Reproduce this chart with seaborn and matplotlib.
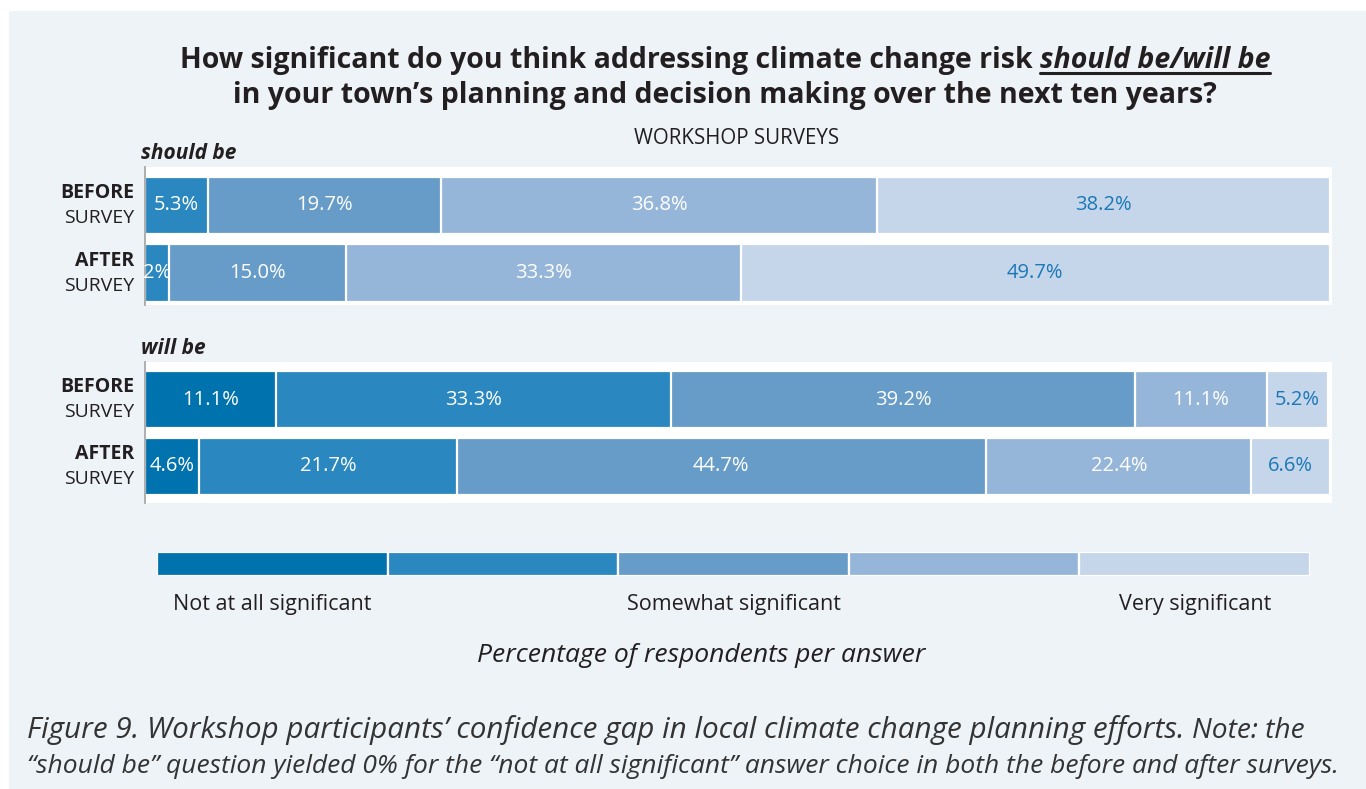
import matplotlib
matplotlib.use("Agg")
import matplotlib.pyplot as plt
import matplotlib.transforms as mtransforms
from matplotlib.patches import Rectangle
from matplotlib.lines import Line2D
import seaborn as sns
import pandas as pd
import numpy as np

# --- data -----------------------------------------------------------------
levels = ["Not at all significant", "Slightly significant", "Somewhat significant",
          "Quite significant", "Very significant"]
legend_ticks = ["Not at all significant", "Somewhat significant", "Very significant"]
surveys = ["BEFORE", "AFTER"]

should_before = [0.0, 5.3, 19.7, 36.8, 38.2]
should_after = [0.0, 2.0, 15.0, 33.3, 49.7]
will_before = [11.1, 33.3, 39.2, 11.1, 5.2]
will_after = [4.6, 21.7, 44.7, 22.4, 6.6]

palette = ["#0072ae", "#2a87bf", "#679cc9", "#96b6d9", "#c5d6eb"]

# --- figure ---------------------------------------------------------------
W, H = 1366, 789
sns.set_theme(style="white")
plt.rcParams["font.family"] = ["Open Sans", "DejaVu Sans"]
INK = "#231f20"

fig = plt.figure(figsize=(W / 100, H / 100), dpi=100)
fig.patch.set_facecolor("white")
fig.patches.append(Rectangle((9 / W, 0), 1, 1 - 11 / H, transform=fig.transFigure,
                             facecolor="#eef3f8", edgecolor="none", zorder=-10))


def fx(x):
    return x / W


def fy(y):
    return 1 - y / H


def add_axes_px(left, top, right, bottom):
    return fig.add_axes([fx(left), fy(bottom), (right - left) / W, (bottom - top) / H])


def fit_width(txt, target):
    r = fig.canvas.get_renderer()
    w = txt.get_window_extent(r).width
    txt.set_fontsize(txt.get_fontsize() * target / w)


def stacked_panel(ax, before, after, heading, ylim):
    rows = []
    for s, vals in zip(surveys, [before, after]):
        cum = np.cumsum(vals)
        for lvl, v, c in zip(levels, vals, cum):
            rows.append({"survey": s, "level": lvl, "pct": v, "cum": c})
    df = pd.DataFrame(rows)

    # draw from the longest cumulative bar back to the shortest
    for i in reversed(range(len(levels))):
        sub = df[(df.level == levels[i]) & (df.pct > 0)]
        sns.barplot(data=sub, x="cum", y="survey", order=surveys, orient="h",
                    color=palette[i], width=0.85, edgecolor="white", linewidth=1.6,
                    saturation=1, ax=ax)
        for _, r in sub.iterrows():
            yi = surveys.index(r.survey)
            lab = f"{r.pct:.1f}%" if r.pct >= 3 else f"{r.pct:.0f}%"
            ax.text(r.cum - r.pct / 2, yi, lab, ha="center", va="center",
                    fontsize=14.5, color="white" if i < 4 else "#1b78b5")

    ax.set_facecolor("white")
    ax.set_xlim(0, 100.2)
    ax.set_ylim(*ylim)
    ax.set_xticks([])
    ax.set_yticks([])
    ax.set_xlabel("")
    ax.set_ylabel("")
    for side in ["top", "right", "bottom"]:
        ax.spines[side].set_visible(False)
    ax.spines["left"].set_color("#a8a8a8")
    ax.spines["left"].set_linewidth(1.3)

    trans = mtransforms.blended_transform_factory(ax.transAxes, ax.transData)
    for yi, s in enumerate(surveys):
        ax.text(-0.0093, yi - 0.18, s, transform=trans, ha="right", va="center",
                fontsize=14, fontweight="bold", color=INK)
        ax.text(-0.0093, yi + 0.19, "SURVEY", transform=trans, ha="right", va="center",
                fontsize=14, color=INK)
    ax.text(-0.003, 1.02, heading, transform=ax.transAxes, ha="left", va="bottom",
            fontsize=15, fontweight="bold", fontstyle="italic", color=INK)


ax1 = add_axes_px(145, 167, 1332, 305)
stacked_panel(ax1, should_before, should_after, "should be", (1.474, -0.57))
ax2 = add_axes_px(145, 362, 1332, 503)
stacked_panel(ax2, will_before, will_after, "will be", (1.545, -0.56))

# --- title ----------------------------------------------------------------
r = fig.canvas.get_renderer()
title_a = "How significant do you think addressing climate change risk"
title_b = "should be/will be"
TS = 20.5
ta = fig.text(0, 0, title_a, fontsize=TS, fontweight="bold", color=INK, va="baseline")
tb = fig.text(0, 0, title_b, fontsize=TS, fontweight="bold", fontstyle="italic",
              color=INK, va="baseline")
tsp = fig.text(0, 0, "a a", fontsize=TS, fontweight="bold")
tnsp = fig.text(0, 0, "aa", fontsize=TS, fontweight="bold")
wa = ta.get_window_extent(r).width
wb = tb.get_window_extent(r).width
wsp = tsp.get_window_extent(r).width - tnsp.get_window_extent(r).width
tsp.remove()
tnsp.remove()
total = wa + wsp + wb
x0 = 725 - total / 2
ta.set_position((fx(x0), fy(68)))
xb = x0 + wa + wsp
tb.set_position((fx(xb), fy(68)))
fig.lines.append(Line2D([fx(xb), fx(xb + wb)], [fy(73), fy(73)], transform=fig.transFigure,
                        color=INK, linewidth=2.2))
fig.text(fx(725), fy(103), "in your town’s planning and decision making over the next ten years?",
         fontsize=TS, fontweight="bold", color=INK, ha="center", va="baseline")

fig.text(fx(737), fy(138), "WORKSHOP SURVEYS", fontsize=14.8, color=INK,
         ha="center", va="center")

# --- legend strip ---------------------------------------------------------
axl = add_axes_px(157, 552, 1310, 576)
leg = pd.DataFrame({"level": levels, "one": [1] * len(levels)})
sns.barplot(data=leg, x="level", y="one", hue="level", palette=palette, width=1,
            edgecolor="white", linewidth=1.6, saturation=1, legend=False, ax=axl)
axl.set_xlim(-0.5, 4.5)
axl.set_ylim(0, 1)
axl.set_yticks([])
axl.set_xticks([0, 2, 4])
axl.set_xticklabels(legend_ticks, fontsize=15.5, color=INK)
axl.tick_params(axis="x", length=0, pad=13)
axl.set_xlabel("")
axl.set_ylabel("")
axl.set_facecolor("none")
for sp in axl.spines.values():
    sp.set_visible(False)

pct = fig.text(fx(701), fy(656), "Percentage of respondents per answer", fontsize=15,
               fontstyle="italic", color=INK, ha="center", va="center")
fit_width(pct, 448)

# --- caption --------------------------------------------------------------
c1 = fig.text(fx(27), fy(738), "Figure 9. Workshop participants’ confidence gap in local "
              "climate change planning efforts.", fontsize=18, fontstyle="italic",
              color="#333333", ha="left", va="baseline")
fit_width(c1, 1158)
c1b = fig.text(fx(1192), fy(738), "Note: the", fontsize=16, fontstyle="italic",
               color="#333333", ha="left", va="baseline")
fit_width(c1b, 113)
c2 = fig.text(fx(27), fy(773), "“should be” question yielded 0% for the “not at all "
              "significant” answer choice in both the before and after surveys.",
              fontsize=16, fontstyle="italic", color="#333333", ha="left", va="baseline")
fit_width(c2, 1318)

fig.savefig("out.png", dpi=100, facecolor=fig.get_facecolor())
